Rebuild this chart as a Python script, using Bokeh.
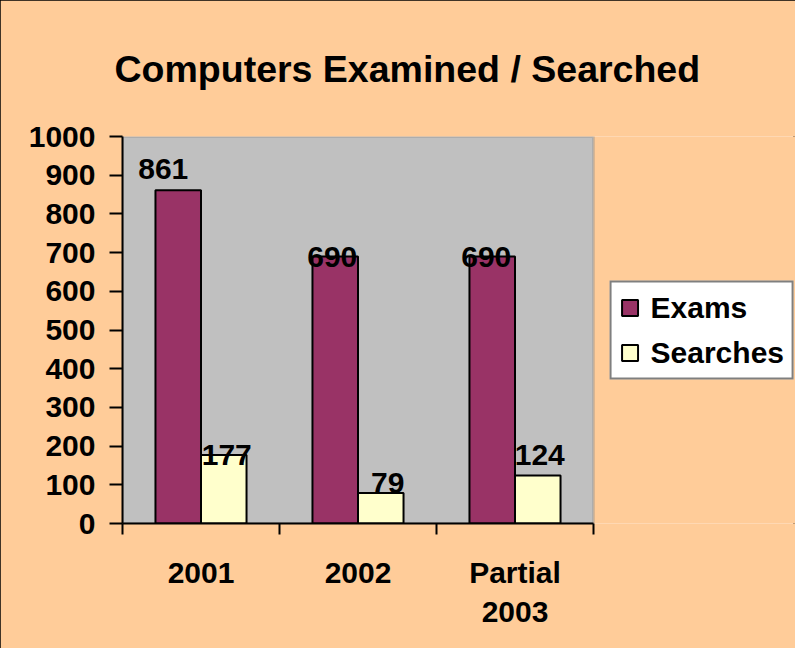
from bokeh.plotting import figure
from bokeh.models import (Range1d, LinearAxis, FixedTicker, BoxAnnotation, Title,
                          ColumnDataSource, Legend, LegendItem)
from bokeh.transform import dodge
from bokeh.core.properties import value
from bokeh.embed import file_html
from bokeh.resources import INLINE

# ---- data ----
categories = ["2001", "2002", "Partial 2003"]
exams = [861, 690, 690]
searches = [177, 79, 124]
series_names = ["Exams", "Searches"]
y_ticks = [0, 100, 200, 300, 400, 500, 600, 700, 800, 900, 1000]
title_text = "Computers Examined / Searched"

FONT = "Liberation Sans"
PEACH = "#FFCC99"

n = len(categories)
centers = [i + 0.5 for i in range(n)]

src = ColumnDataSource(dict(
    xc=centers, cat=categories, exams=exams, searches=searches,
    exams_lbl=[str(v) for v in exams], searches_lbl=[str(v) for v in searches],
    ex_dx=[-15, -3, -6], ex_dy=[-21, 1, 1],
    se_dx=[3, 7, 2], se_dy=[0, -10, -21],
))

# frame extends to the right edge so the legend can live inside it;
# the plot area (gray) spans the categories only: 471 px of a 673 px frame
FRAME_W = 673
AREA_W = 471

p = figure(width=795, height=648, title=None,
           x_range=Range1d(0, n * FRAME_W / AREA_W), y_range=Range1d(0, 1000),
           output_backend="svg", toolbar_location=None,
           x_axis_location=None, y_axis_location="left",
           min_border_left=122, min_border_right=0,
           min_border_top=136, min_border_bottom=125)

p.background_fill_color = PEACH
p.border_fill_color = PEACH
p.outline_line_color = None
p.grid.visible = False
p.styles = {"outline": "2px solid black", "outline-offset": "-2px"}

# gray plot area with its gray border
area = BoxAnnotation(left=0, right=n, bottom=0, top=1000, level="underlay",
                     fill_color="#C0C0C0", fill_alpha=1.0,
                     line_color="#808080", line_width=3)
p.add_layout(area)

title = Title(text=title_text, text_font=FONT, text_font_size="37.5px",
              text_font_style="bold", text_color="black", align="left",
              vertical_align="top", offset=-8, standoff=90)
p.add_layout(title, "above")

# y axis
ya = p.yaxis[0]
ya.ticker = FixedTicker(ticks=y_ticks)
ya.major_tick_out = 13
ya.major_tick_in = 0
ya.minor_tick_out = 0
ya.minor_tick_in = 0
ya.major_tick_line_width = 2
ya.axis_line_width = 2
ya.axis_line_color = "black"
ya.major_tick_line_color = "black"
ya.major_label_text_color = "black"
ya.major_label_text_font = FONT
ya.major_label_text_font_style = "bold"
ya.major_label_text_font_size = "30px"
ya.major_label_standoff = 14

# x axis: labels at category centres, separator ticks at category boundaries
xa = LinearAxis(ticker=FixedTicker(ticks=centers, minor_ticks=list(range(n + 1))),
                bounds=(0, n),
                major_tick_line_color=None, major_tick_out=11, major_tick_in=0,
                minor_tick_out=11, minor_tick_in=0, minor_tick_line_width=2,
                minor_tick_line_color="black",
                axis_line_width=2, axis_line_color="black",
                major_label_text_color="black",
                major_label_text_font=FONT, major_label_text_font_style="bold",
                major_label_text_font_size="30px", major_label_standoff=21,
                major_label_overrides={c: lab.replace(" ", "\n")
                                       for c, lab in zip(centers, categories)})
p.add_layout(xa, "below")

# bars
r1 = p.vbar(x=dodge("xc", -0.145), top="exams", width=0.29, source=src,
            fill_color="#993366", line_color="black", line_width=2)
r2 = p.vbar(x=dodge("xc", 0.145), top="searches", width=0.29, source=src,
            fill_color="#FFFFCC", line_color="black", line_width=2)

# value labels
p.text(x=dodge("xc", -0.145), y="exams", text="exams_lbl",
       x_offset="ex_dx", y_offset="ex_dy", source=src,
       text_align="center", text_baseline="alphabetic", text_font=value(FONT),
       text_font_style="bold", text_font_size="30px", text_color="black")
p.text(x=dodge("xc", 0.145), y="searches", text="searches_lbl",
       x_offset="se_dx", y_offset="se_dy", source=src,
       text_align="center", text_baseline="alphabetic", text_font=value(FONT),
       text_font_style="bold", text_font_size="30px", text_color="black")

legend = Legend(items=[LegendItem(label=series_names[0], renderers=[r1]),
                       LegendItem(label=series_names[1], renderers=[r2])],
                location="center_right", orientation="vertical",
                border_line_color="black", border_line_width=2,
                background_fill_color="white", background_fill_alpha=1.0,
                label_text_font=FONT, label_text_font_style="bold",
                label_text_font_size="30px", label_text_color="black",
                glyph_width=20, glyph_height=20, label_standoff=11,
                padding=8, spacing=11, margin=1, label_height=20)
p.add_layout(legend)

open("out.html", "w").write(file_html(p, INLINE))
